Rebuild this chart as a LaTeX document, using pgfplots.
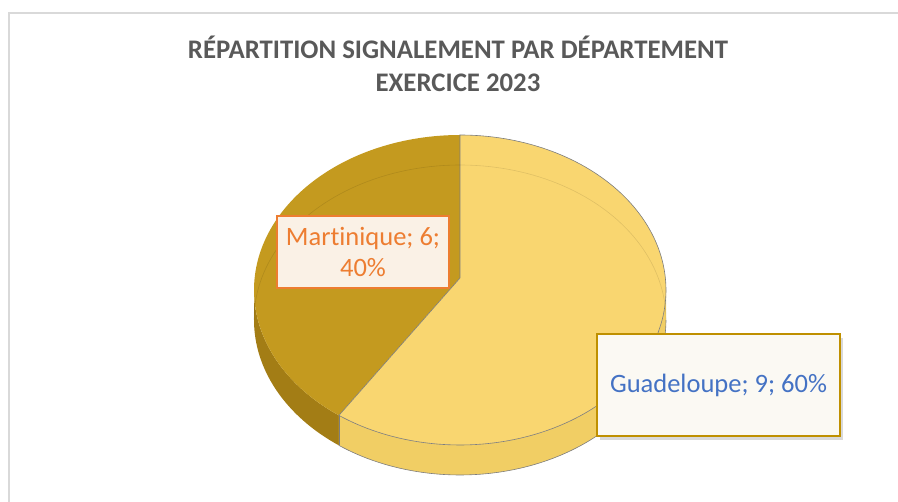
\documentclass[border=0pt]{standalone}
\usepackage{pgfplots}
\pgfplotsset{compat=1.18}
\usepackage{pgfplotstable}
\usepgfplotslibrary{fillbetween}
\usetikzlibrary{shadows}
\usepackage{fontspec}
\setmainfont{Carlito}[Ligatures=NoCommon]

\definecolor{gtop}{RGB}{249,214,112}
\definecolor{gside}{RGB}{241,206,100}
\definecolor{mtop}{RGB}{196,154,31}
\definecolor{mside}{RGB}{163,125,21}
\definecolor{edgegray}{RGB}{125,125,125}
\definecolor{framegray}{RGB}{217,217,217}
\definecolor{titlegray}{RGB}{89,89,89}
\definecolor{orangelab}{RGB}{237,125,49}
\definecolor{mfill}{RGB}{250,241,230}
\definecolor{goldlab}{RGB}{191,144,0}
\definecolor{gfill}{RGB}{251,249,243}
\definecolor{bluelab}{RGB}{68,114,196}

\pgfplotstableread{
dept value
Guadeloupe 9
Martinique 6
}\piedata

\begin{document}
\begin{tikzpicture}
\pgfplotstablegetelem{0}{value}\of\piedata \let\vG\pgfplotsretval
\pgfplotstablegetelem{1}{value}\of\piedata \let\vM\pgfplotsretval
\pgfmathsetmacro\aS{90-360*\vG/(\vG+\vM)}
\pgfmathsetmacro\aE{\aS+360}
\pgfmathsetmacro\aSb{\aS+0.01}
\begin{axis}[at={(0,0)}, anchor=south west, scale only axis,
  width=898pt, height=502pt, xmin=0, xmax=898, ymin=0, ymax=502,
  y dir=reverse, axis lines=none, clip=false]

% frame
\draw[color=framegray, line width=1.4pt] (axis cs:9,502) -- (axis cs:9,13) -- (axis cs:898,13);

% side walls
\addplot[draw=none, name path=mA, domain=-180:\aS, samples=60] ({460+206*cos(x)},{290-155*sin(x)});
\addplot[draw=none, name path=mB, domain=-180:\aS, samples=60] ({460+206*cos(x)},{320-155*sin(x)});
\addplot[mside] fill between[of=mA and mB];
\addplot[draw=none, name path=gA, domain=\aS:0, samples=80] ({460+206*cos(x)},{290-155*sin(x)});
\addplot[draw=none, name path=gB, domain=\aS:0, samples=80] ({460+206*cos(x)},{320-155*sin(x)});
\addplot[gside] fill between[of=gA and gB];
\addplot[draw=edgegray, line width=0.6pt, domain=\aS:0, samples=80] ({460+206*cos(x)},{320-155*sin(x)});
% vertical edge of the Guadeloupe wall at the split
\addplot[draw=edgegray, line width=0.6pt, domain=0:30, samples=2, variable=\h] ({460+206*cos(\aS)},{290-155*sin(\aS)+\h});

% top faces
\addplot[fill=mtop, draw=none, domain=90:\aE, samples=100] ({460+206*cos(x)},{290-155*sin(x)}) -- (axis cs:460,278) -- cycle;
\addplot[fill=gtop, draw=edgegray, line width=0.6pt, domain=\aS:90, samples=140] ({460+206*cos(x)},{290-155*sin(x)}) -- (axis cs:460,278) -- cycle;

% faint back edge of the bottom face, seen through the top
\addplot[draw=black, opacity=0.10, line width=0.6pt, domain=0:180, samples=100] ({460+206*cos(x)},{320-155*sin(x)});

% title
\node[font=\bfseries\fontsize{26.8}{33}\selectfont, text=titlegray, align=center, anchor=base] at (axis cs:458,92) {RÉPARTITION SIGNALEMENT PAR DÉPARTEMENT\\EXERCICE 2023};

% data labels
\node[draw=orangelab, fill=mfill, line width=2pt, minimum width=172pt, minimum height=72pt, inner sep=0pt,
  align=center, text=orangelab, font=\fontsize{26.5}{31}\selectfont] at (axis cs:363,252) {Martinique; 6;\\40\%};
\node[draw=goldlab, fill=gfill, line width=2.2pt, minimum width=243pt, minimum height=102pt, inner sep=0pt,
  align=center, text=bluelab, font=\fontsize{26.5}{31}\selectfont,
  drop shadow={shadow xshift=3pt, shadow yshift=-4pt, opacity=0.25, fill=black!60}] at (axis cs:718.5,385) {Guadeloupe; 9; 60\%};
\end{axis}
\pgfresetboundingbox
\path[use as bounding box] (0,0) rectangle (898pt,502pt);
\end{tikzpicture}
\end{document}
